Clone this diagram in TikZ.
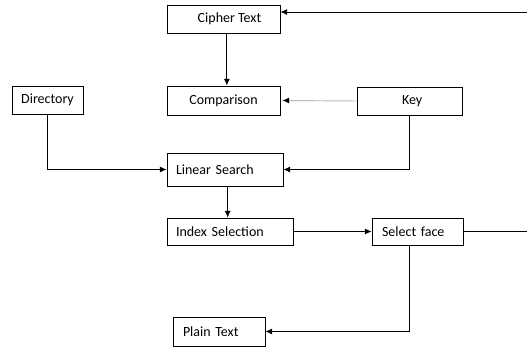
\documentclass[tikz,border=0pt]{standalone}
\usepackage{fontspec}
\setmainfont{Carlito}
\usepackage{xcolor}
\usepackage{tikz}
\usetikzlibrary{positioning,arrows.meta}

\tikzset{
  box/.style={draw, line width=0.6pt, inner sep=0pt, font=\fontsize{10.5}{12}\selectfont},
  lbox/.style={box, align=left, inner xsep=6.75pt},
  conn/.style={line width=0.7pt, -{Latex[length=5pt,width=4.5pt]}},
}

\begin{document}
\begin{tikzpicture}[x=0.75pt,y=0.75pt,yscale=-1,xscale=1]
\useasboundingbox (0,0) rectangle (527,347);

%Boxes
\node [box, minimum width=84.75pt, minimum height=21pt] (cipher) at (223.5,19) {\hspace{9pt}Cipher Text};
\node [box, minimum width=84.75pt, minimum height=21.75pt] (cmp) at (223.5,100.5) {Comparison};
\node [box, minimum width=78.75pt, minimum height=21pt] (key) at (409.5,101) {\hspace{4pt}Key};
\node [box, minimum width=53.25pt, minimum height=21pt] (dir) at (47.5,100) {Directory};
\node [lbox, text width=73.5pt, minimum height=24.75pt] (lin) at (225,169.5) {Linear Search};
\node [lbox, text width=81pt, minimum height=20.25pt] (idx) at (230,231.5) {Index Selection};
\node [lbox, inner xsep=7.5pt, text width=53.25pt, minimum height=20.25pt] (sel) at (417.5,231.5) {Select face};
\node [lbox, inner xsep=7.5pt, text width=54pt, minimum height=21.75pt] (plain) at (219,331.5) {Plain Text};

%Loop ends at the right edge
\coordinate (outT) at (527,12);
\coordinate (outR) at (527,231.5);

%Connectors
\draw [conn] ([xshift=2.5pt]cipher.south) -- ([xshift=2.5pt]cipher.south |- cmp.north);
\draw [conn, color={rgb,255:red,185;green,185;blue,185}, -{Latex[length=5pt,width=4.5pt,black]}] (key.west) -- ([xshift=1.5pt]cmp.east);
\draw [conn] (dir.south) |- (lin.west);
\draw [conn] (key.south) |- (lin.east);
\draw [conn] ([xshift=2pt]lin.south) -- ([xshift=2pt]lin.south |- idx.north);
\draw [conn] (idx.east) -- (sel.west);
\draw [line width=0.7pt] (sel.east) -- (outR);
\draw [conn] (outT) -- (outT -| cipher.east);
\draw [conn] (key.south |- sel.south) |- (plain.east);
\end{tikzpicture}
\end{document}
